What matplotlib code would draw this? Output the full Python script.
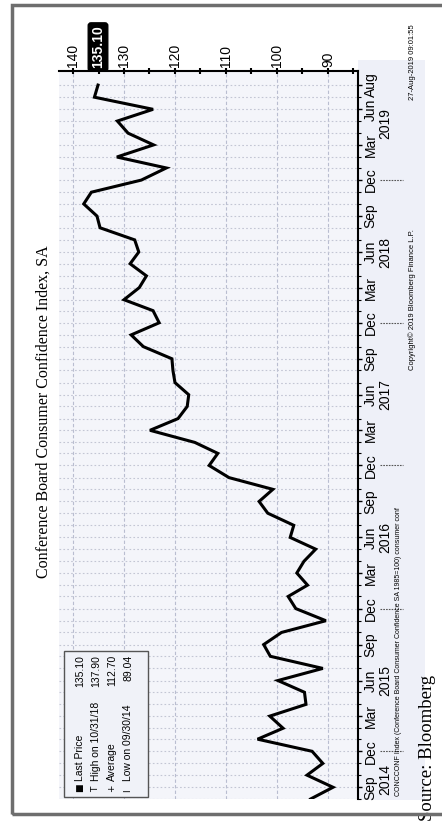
import numpy as np
import pandas as pd
import matplotlib
matplotlib.use('Agg')
import matplotlib.pyplot as plt
import matplotlib.dates as mdates
from matplotlib import transforms
from matplotlib.patches import Rectangle

# monthly readings, Aug 2014 .. Aug 2019 (month end)
start_month = '2014-08-01'
values = [93.4,
          89.0, 94.1, 91.0, 93.1,
          103.8, 98.8, 101.4, 94.3, 94.6, 99.8, 91.0, 101.3, 102.6, 99.1, 90.4, 96.3,
          97.8, 94.0, 96.1, 94.7, 92.4, 97.4, 96.7, 101.8, 103.5, 100.8, 109.4, 113.3,
          111.6, 116.1, 124.9, 119.4, 117.6, 117.3, 120.0, 120.4, 120.6, 126.2, 128.6, 123.1,
          124.3, 130.0, 127.0, 125.6, 128.8, 127.1, 127.9, 134.7, 135.3, 137.9, 136.4, 126.6,
          121.7, 131.4, 124.2, 129.2, 131.3, 124.3, 135.8, 135.1]

month_labels = ['Sep', 'Dec', 'Mar', 'Jun'] * 5 + ['Aug']
month_ticks = ['2014-09', '2014-12', '2015-03', '2015-06', '2015-09', '2015-12',
               '2016-03', '2016-06', '2016-09', '2016-12', '2017-03', '2017-06',
               '2017-09', '2017-12', '2018-03', '2018-06', '2018-09', '2018-12',
               '2019-03', '2019-06', '2019-08']
year_labels = ['2014', '2015', '2016', '2017', '2018', '2019']
year_pos = ['2014-10-20', '2015-06-30', '2016-06-30', '2017-06-30', '2018-06-30', '2019-05-25']
year_breaks = ['2014-12-31', '2015-12-31', '2016-12-31', '2017-12-31', '2018-12-31']
value_ticks = [140, 130, 120, 110, 100, 90]

last_price = 135.10
legend_rows = [('Last Price', '135.10'),
               ('High on 10/31/18', '137.90'),
               ('Average', '112.70'),
               ('Low on 09/30/14', '89.04')]
legend_icons = ['\u25a0', 'T', '+', 'I']

dates = pd.date_range(start_month, periods=len(values), freq='MS') + pd.offsets.MonthEnd(0)
tick_dates = pd.to_datetime(month_ticks) + pd.offsets.MonthEnd(0)

sans = 'Liberation Sans'
serif = 'Liberation Serif'

W, H = 442, 824
fig = plt.figure(figsize=(W / 100, H / 100), dpi=100)
fig.patch.set_facecolor('white')

def fx(x):
    return x / W

def fy(y):
    return 1 - y / H

# light tint behind the label column (drawn below the axes)
fig.patches.append(Rectangle((fx(358), fy(800)), fx(425) - fx(358), fy(60) - fy(800),
                             transform=fig.transFigure, fc='#eef0f8', ec='none', zorder=-1))
# outer grey frame
fig.patches.append(Rectangle((fx(12), fy(814)), fx(450) - fx(12), fy(5) - fy(814),
                             transform=fig.transFigure, fill=False, ec='#6e6e6e', lw=2.5, zorder=5))

ax = fig.add_axes([fx(59), fy(799), fx(358) - fx(59), fy(71) - fy(799)])
ax.set_facecolor('#f4f5fa')
ax.plot(values, dates, color='black', lw=2.2, solid_joinstyle='miter', zorder=3)

ax.set_xlim(142.75, 84.1)
ax.set_ylim(pd.Timestamp('2014-08-31'), pd.Timestamp('2019-10-06'))

# value axis on top
ax.xaxis.tick_top()
ax.set_xticks(value_ticks)
ax.set_xticks([v - 5 for v in value_ticks], minor=True)
ax.set_xticklabels([str(v) for v in value_ticks], rotation=90, family=sans, fontsize=10)
ax.tick_params(axis='x', which='both', direction='inout', length=4, width=1.5, pad=1)

# time axis on the right
ax.yaxis.tick_right()
ax.set_yticks(dates, minor=True)
ax.set_yticks(tick_dates)
ax.set_yticklabels(month_labels, rotation=90, va='center', ha='left', family=sans, fontsize=10)
ax.tick_params(axis='y', which='major', direction='out', length=3, width=1, pad=1)
ax.tick_params(axis='y', which='minor', direction='out', length=2.5, width=0.8)

ax.grid(axis='x', which='major', color='#b9bdd0', ls=(0, (3, 2)), lw=0.8)
ax.grid(axis='y', which='both', color='#c3c6d4', ls=(0, (1.5, 2)), lw=0.8)

for s in ['left', 'bottom']:
    ax.spines[s].set_visible(False)
for s in ['top', 'right']:
    ax.spines[s].set_linewidth(1.5)

# year labels and separators next to the month labels
ytrans = transforms.blended_transform_factory(fig.transFigure, ax.transData)
for lab, pos in zip(year_labels, pd.to_datetime(year_pos)):
    fig.text(fx(385), mdates.date2num(pos), lab, transform=ytrans, rotation=90,
             ha='center', va='center', family=sans, fontsize=10)
for pos in pd.to_datetime(year_breaks):
    y = mdates.date2num(pos)
    fig.lines.append(plt.Line2D([fx(380), fx(403)], [y, y], transform=ytrans,
                                color='#555555', lw=0.8, ls=(0, (1.5, 1))))

# last price tag
xtrans = transforms.blended_transform_factory(ax.transData, fig.transFigure)
fig.text(last_price, fy(47), f'{last_price:.2f}', transform=xtrans, rotation=90,
         ha='center', va='center', color='white', family=sans, fontsize=10, fontweight='bold',
         bbox=dict(boxstyle='round,pad=0.2', fc='black', ec='black'))

# legend box
fig.patches.append(Rectangle((fx(64), fy(797)), fx(148) - fx(64), fy(651) - fy(797),
                             transform=fig.transFigure, fc='#f0f2f8', ec='#555555', lw=1, zorder=4))
row_x = [80, 96, 112, 128]
for (name, val), icon, x in zip(legend_rows, legend_icons, row_x):
    fig.text(fx(x), fy(792), icon, rotation=90, ha='center', va='bottom',
             family='DejaVu Sans', fontsize=6.5, zorder=6)
    fig.text(fx(x), fy(781), name, rotation=90, ha='center', va='bottom',
             family=sans, fontsize=7.5, zorder=6)
    fig.text(fx(x), fy(655), val, rotation=90, ha='center', va='top',
             family=sans, fontsize=7.5, zorder=6)

# titles and footnotes
fig.text(fx(44), fy(412), 'Conference Board Consumer Confidence Index, SA', rotation=90,
         ha='center', va='center', family=serif, fontsize=11.5)
fig.text(fx(412), fy(62), '27-Aug-2019 09:01:55', rotation=90, ha='center', va='center',
         family=sans, fontsize=5.5)
fig.text(fx(412), fy(300), 'Copyright\u00a9 2019 Bloomberg Finance L.P.', rotation=90,
         ha='center', va='center', family=sans, fontsize=5.5)
fig.text(fx(399), fy(796), 'CONCCONF Index (Conference Board Consumer Confidence SA 1985=100) consumer conf',
         rotation=90, ha='center', va='bottom', family=sans, fontsize=5)
fig.text(fx(427), fy(821), 'Source: Bloomberg', rotation=90, ha='center', va='bottom',
         family=serif, fontsize=13.5)

fig.savefig('out.png', dpi=100)
